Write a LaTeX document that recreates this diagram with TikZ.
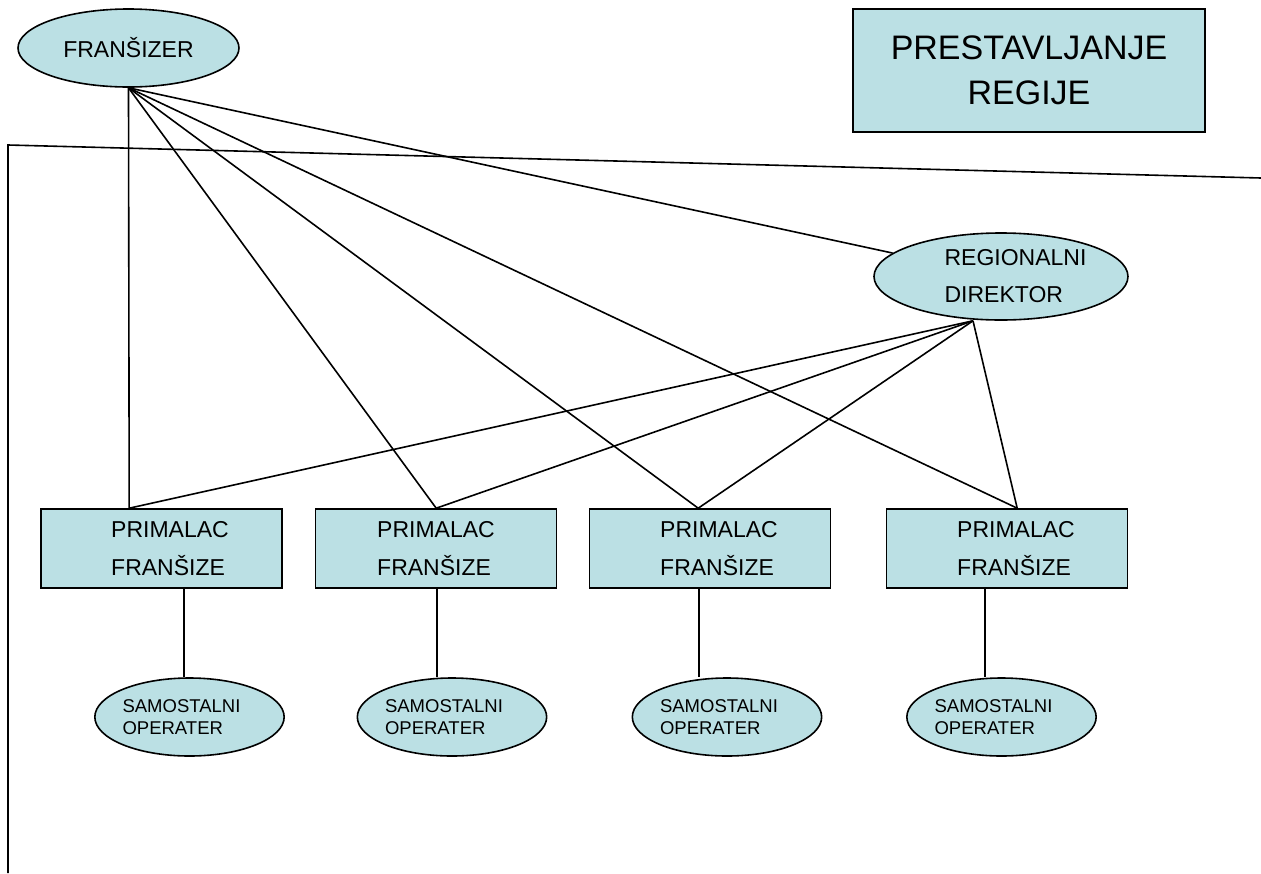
\documentclass[tikz,border=0pt]{standalone}
\usepackage{fontspec}
\setmainfont{Liberation Sans}
\usetikzlibrary{shapes.geometric}
\definecolor{boxfill}{RGB}{187,224,228}
\begin{document}
\begin{tikzpicture}[x=1pt,y=-1pt,line width=1.6pt,
  oval/.style={ellipse,draw,fill=boxfill,inner sep=0pt},
  rbox/.style={rectangle,draw,fill=boxfill,inner sep=0pt},
  pbox/.style={rbox,minimum width=241pt,minimum height=79pt,align=left,font=\fontsize{23}{38}\selectfont},
  sop/.style={oval,minimum width=189pt,minimum height=78pt,align=left,font=\fontsize{18.5}{22}\selectfont},
  link/.style={draw,line width=1.6pt}]
\useasboundingbox (0,0) rectangle (1261,873);

\node[oval,minimum width=221pt,minimum height=78pt,font=\fontsize{23}{28}\selectfont] (fr) at (128.5,48) {FRANŠIZER};
\node[rbox,minimum width=352pt,minimum height=123pt,align=center,font=\fontsize{34}{45}\selectfont] (title) at (1029,70.5) {PRESTAVLJANJE\\REGIJE};
\node[oval,minimum width=254pt,minimum height=87pt,align=left,font=\fontsize{23}{37}\selectfont] (rd) at (1001,276.5) {\hspace*{29pt}REGIONALNI\\\hspace*{29pt}DIREKTOR};

\node[pbox] (b1) at (161.5,548.5) {\hspace*{17pt}PRIMALAC\\\hspace*{17pt}FRANŠIZE};
\node[pbox] (b2) at (436,548.5) {PRIMALAC\\FRANŠIZE};
\node[pbox] (b3) at (710,548.5) {\hspace*{18pt}PRIMALAC\\\hspace*{18pt}FRANŠIZE};
\node[pbox] (b4) at (1007,548.5) {\hspace*{18pt}PRIMALAC\\\hspace*{18pt}FRANŠIZE};

\node[sop] (s1) at (189.5,717) {SAMOSTALNI\hspace*{16pt}\\OPERATER};
\node[sop] (s2) at (452,717) {SAMOSTALNI\hspace*{16pt}\\OPERATER};
\node[sop] (s3) at (727,717) {SAMOSTALNI\hspace*{16pt}\\OPERATER};
\node[sop] (s4) at (1001.5,717) {SAMOSTALNI\hspace*{16pt}\\OPERATER};

% frame line
\coordinate (f1) at (8,873);
\coordinate (f2) at (8,145);
\coordinate (f3) at (1261,178);
\draw[link] (f1) -- (f2) -- (f3);

% from FRANSIZER
\draw[link] (fr.south) -- ([xshift=89pt]b1.north west);
\draw[link] (fr.south) -- ([xshift=121.5pt]b2.north west);
\draw[link] (fr.south) -- ([xshift=109.5pt]b3.north west);
\draw[link] (fr.south) -- ([xshift=131.5pt]b4.north west);
\draw[link] (fr.south) -- (rd);

% from REGIONALNI DIREKTOR
\draw[link] ([xshift=-28pt]rd.south) -- ([xshift=89pt]b1.north west);
\draw[link] ([xshift=-28pt]rd.south) -- ([xshift=121.5pt]b2.north west);
\draw[link] ([xshift=-28pt]rd.south) -- ([xshift=109.5pt]b3.north west);
\draw[link] ([xshift=-28pt]rd.south) -- ([xshift=131.5pt]b4.north west);

% down to operators
\draw[link] ([xshift=22.5pt]b1.south) -- ([xshift=22.5pt]b1.south |- s1.north);
\draw[link] ([xshift=1pt]b2.south) -- ([xshift=1pt]b2.south |- s2.north);
\draw[link] ([xshift=-11pt]b3.south) -- ([xshift=-11pt]b3.south |- s3.north);
\draw[link] ([xshift=-22pt]b4.south) -- ([xshift=-22pt]b4.south |- s4.north);
\end{tikzpicture}
\end{document}
